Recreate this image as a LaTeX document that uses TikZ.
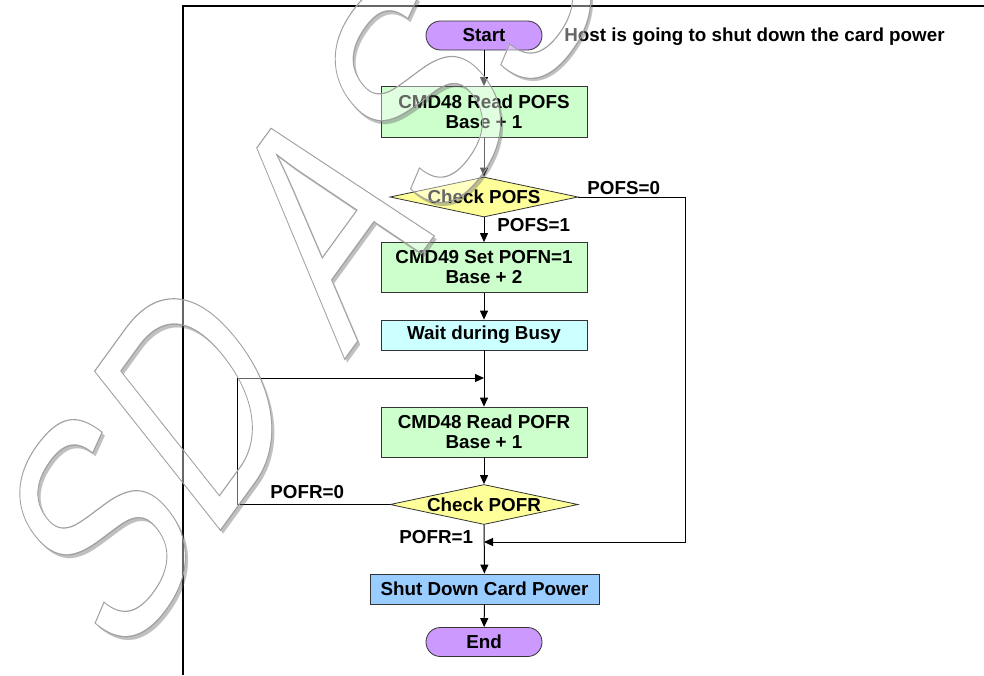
\documentclass[tikz,border=0pt]{standalone}
\usepackage{fontspec}
\setmainfont{Liberation Sans}
\newfontfamily\wmfont{Liberation Sans}
\usetikzlibrary{arrows.meta,
                shapes.geometric}

\definecolor{termfill}{HTML}{CC99FF}
\definecolor{procfill}{HTML}{CCFFCC}
\definecolor{waitfill}{HTML}{CCFFFF}
\definecolor{shutfill}{HTML}{99CCFF}
\definecolor{decfill}{HTML}{FFFF99}

\newcommand{\wmtext}{SD ASSOCIATION}
% stroked (outline) text: #1 = line width, #2 = grey level
\newcommand{\wmoutline}[3]{%
  \special{pdf:literal direct 1 Tr #1 w #2 #2 #2 RG}#3\special{pdf:literal direct 0 Tr}}

\begin{document}
\begin{tikzpicture}[x=0.5pt, y=-0.5pt,
        font = \fontsize{9.4}{10}\selectfont\bfseries,
        proc/.style = {rectangle, draw=black!80, fill=#1, align=center,
                       minimum width=103pt, minimum height=25pt, inner sep=1pt},
        term/.style = {rectangle, rounded corners=7.2pt, draw=black!80,
                       fill=termfill, minimum width=58pt, minimum height=14.5pt},
         dec/.style = {diamond, draw=black!80, fill=decfill, aspect=4.7,
                       inner sep=0pt, minimum width=94pt, minimum height=20pt},
         lbl/.style = {anchor=west, inner sep=0pt},
          wm/.style = {anchor=base west, inner sep=0pt, rotate=54, xslant=0.28,
                       xscale=0.81, font=\wmfont\fontsize{142}{150}\selectfont},
   every edge/.style = {draw, line width=0.5pt,
                        -{Triangle[length=4.5pt,width=4pt]}}
                        ]
    \useasboundingbox (0,0) rectangle (984,675);

    % page frame
    \draw[line width=1pt] (984,6) -| (183,675);

    % flow nodes
    \node (start)   at (484,35.5) [term] {Start};
    \node (rdpofs)  at (484,112)  [proc=procfill, minimum height=25.5pt] {CMD48 Read POFS\\Base + 1};
    \node (chkpofs) at (484,197)  [dec] {Check POFS};
    \node (setpofn) at (484,267.5)[proc=procfill] {CMD49 Set POFN=1\\Base + 2};
    \node (wait)    at (484,335)  [proc=waitfill, minimum height=15pt] {Wait during Busy};
    \node (rdpofr)  at (484,432)  [proc=procfill] {CMD48 Read POFR\\Base + 1};
    \node (chkpofr) at (484,504.5)[dec] {Check POFR};
    \node (shut)    at (484.5,589)[proc=shutfill, minimum width=114.5pt, minimum height=15pt] {Shut Down Card Power};
    \node (stop)    at (484,642)  [term] {End};

    \coordinate (loopin) at (484,378);
    \coordinate (merge)  at (484,542);

    % labels
    \node (host)   at (564,37)  [lbl] {Host is going to shut down the card power};
    \node (pofs0)  at (587,188) [lbl] {POFS=0};
    \node (pofs1)  at (497,225) [lbl] {POFS=1};
    \node (pofr0)  at (270,492) [lbl] {POFR=0};
    \node (pofr1)  at (399,537) [lbl] {POFR=1};

    \path (start) edge (rdpofs);
    \path (rdpofs) edge (chkpofs);
    \path (chkpofs) edge (setpofn);
    \path (setpofn) edge (wait);
    \path (wait) edge (rdpofr);
    \path (rdpofr) edge (chkpofr);
    \path (chkpofr) edge (shut);
    \path (shut) edge (stop);

    % the two side loops
    \draw[line width=0.5pt, -{Triangle[length=4.5pt,width=4pt]}]
        (chkpofs.east) -- ++(107,0) |- (merge);
    \draw[line width=0.5pt, -{Triangle[length=4.5pt,width=4pt]}]
        (chkpofr.west) -- ++(-152,0) |- (loopin);

    % watermark
    \begin{scope}
    \clip (0,0) rectangle (984,675);
    \begin{scope}[transparency group, opacity=0.4]
    \node (wmshadow) at (122,673.5) [wm, text=black!62] {\wmtext};
    \node (wmfill) at (119,670) [wm, text=white] {\wmtext};
    \end{scope}
    \node (wmline) at (119,670) [wm] {\wmoutline{0.55}{0.63}{\wmtext}};
    \end{scope}
\end{tikzpicture}
\end{document}
